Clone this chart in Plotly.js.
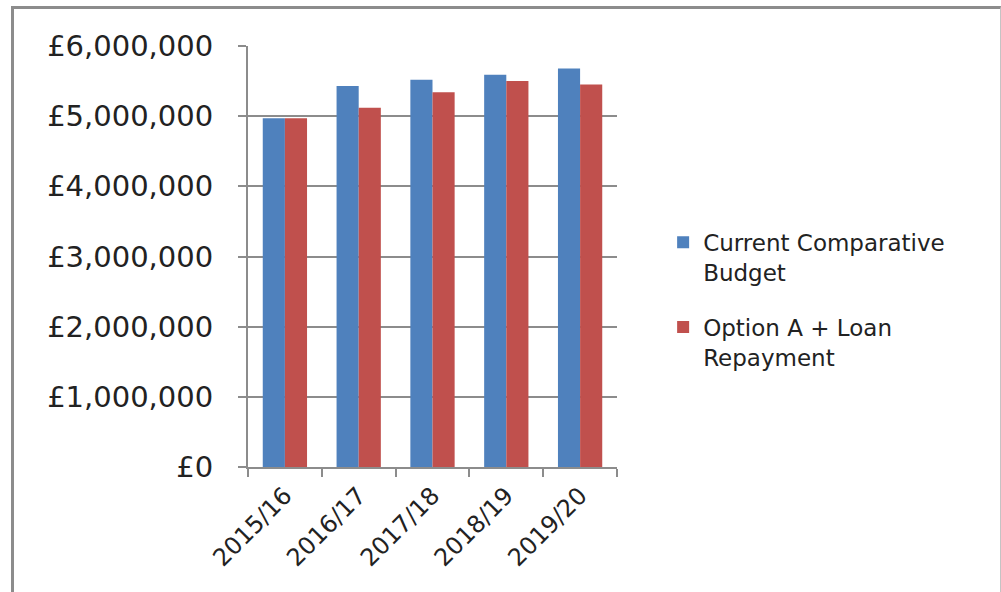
<!DOCTYPE html>
<html>
<head>
<meta charset="utf-8">
<script src="https://cdn.plot.ly/plotly-3.0.1.min.js"></script>
<style>
  html, body { margin: 0; padding: 0; background: #fff; }
  #frame { position: absolute; left: 11px; top: 6px; width: 986px; height: 600px;
           border-left: 3px solid #8c8c8c; border-top: 3px solid #8c8c8c; border-right: 1px solid #c4c4c4; }
  #chart { position: absolute; left: 0; top: 0; width: 1001px; height: 592px; }
</style>
</head>
<body>
<div id="frame"></div>
<div id="chart"></div>
<script>
const categories = ["2015/16", "2016/17", "2017/18", "2018/19", "2019/20"];
const currentBudget = [4970000, 5430000, 5520000, 5590000, 5680000];
const optionA = [4970000, 5120000, 5340000, 5500000, 5450000];
const yTickVals = [0, 1000000, 2000000, 3000000, 4000000, 5000000, 6000000];
const yTickText = ["£0", "£1,000,000", "£2,000,000", "£3,000,000", "£4,000,000", "£5,000,000", "£6,000,000"];
const seriesNames = ["Current Comparative<br>Budget", "Option A + Loan<br>Repayment"];

const font = "DejaVu Sans, sans-serif";
const data = [
  { type: "bar", x: categories, y: currentBudget, name: seriesNames[0], legendgroup: "g1",
    marker: { color: "#4F81BD", line: { width: 0 } } },
  { type: "bar", x: categories, y: optionA, name: seriesNames[1], legendgroup: "g2",
    marker: { color: "#C0504D", line: { width: 0 } } }
];
const layout = {
  width: 1001, height: 592,
  paper_bgcolor: "rgba(0,0,0,0)", plot_bgcolor: "rgba(0,0,0,0)",
  margin: { l: 248, r: 384, t: 46, b: 125, pad: 0 },
  barmode: "group", bargap: 0.4, bargroupgap: 0,
  font: { family: font, color: "#222", size: 23 },
  xaxis: {
    type: "category", tickangle: -45, tickson: "boundaries",
    ticks: "outside", ticklen: 8, tickcolor: "#8c8c8c", tickwidth: 2,
    showline: true, linecolor: "#8c8c8c", linewidth: 2,
    showgrid: false, ticklabelstandoff: 3,
    tickfont: { family: font, size: 24, color: "#222" },
    fixedrange: true
  },
  yaxis: {
    range: [0, 6000000], tickvals: yTickVals, ticktext: yTickText,
    ticks: "outside", ticklen: 8, tickcolor: "#8c8c8c", tickwidth: 2,
    showline: true, linecolor: "#8c8c8c", linewidth: 2,
    showgrid: true, gridcolor: "#8c8c8c", gridwidth: 2, zeroline: false,
    ticklabelstandoff: 19,
    tickfont: { family: font, size: 29, color: "#222" }, fixedrange: true
  },
  showlegend: true,
  legend: {
    x: 1.125, xanchor: "left", y: 0.585, yanchor: "top",
    valign: "top", tracegroupgap: 22,
    font: { family: font, size: 23, color: "#222" },
    bgcolor: "rgba(0,0,0,0)"
  }
};
Plotly.newPlot("chart", data, layout, { displayModeBar: false, staticPlot: true });
</script>
</body>
</html>
